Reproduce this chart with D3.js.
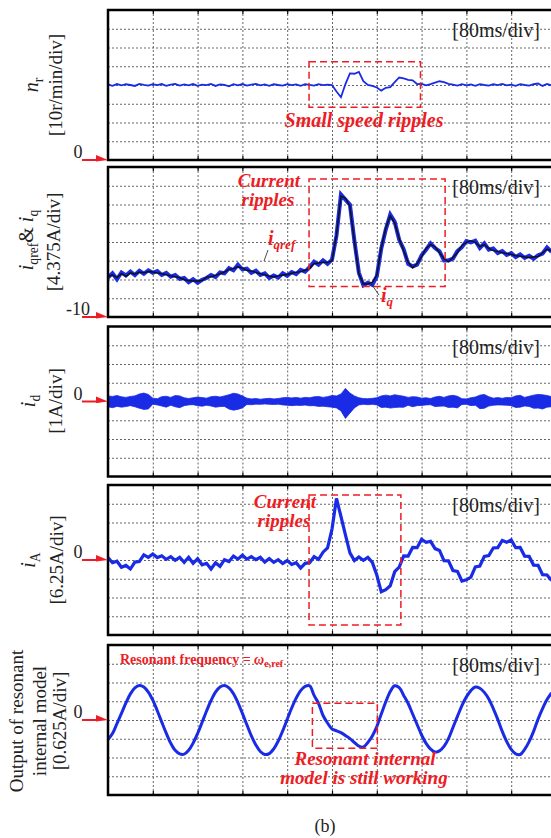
<!DOCTYPE html>
<html lang="en">
<head>
<meta charset="UTF-8" />
<title>Speed, current and resonant model waveforms</title>
<script src="https://cdnjs.cloudflare.com/ajax/libs/d3/7.8.5/d3.min.js"></script>
<style>
  body { margin: 0; background: #fff; }
  svg { display: block; font-family: "Liberation Serif", "Times New Roman", serif; }
  .grid line { stroke: #555; stroke-width: 0.9; stroke-dasharray: 2,2; }
  .grid path, .ticks path { display: none; }
  .ticks line { stroke: #000; stroke-width: 1.2; }
  .frame { fill: none; stroke: #000; stroke-width: 2.5; }
  .note { fill: #ee1c24; font-weight: bold; font-style: italic; }
  .box { fill: none; stroke: #ee1c24; stroke-width: 1.5; stroke-dasharray: 7,4; }
</style>
</head>
<body>
<svg id="chart"></svg>
<script>
// one sample every 8 ms (0.1 div at 80 ms/div)
const SAMPLE_MS = 8;
const timeGrid = [80, 160, 240, 320, 400, 480, 560, 640, 720];
const timePerDiv = "[80ms/div]";

// n_r [r/min]
const speed = [
  40.3, 39.6, 40.5, 39.8, 40.4, 40.0, 39.5, 40.6, 40.1, 39.7,
  40.4, 39.9, 40.5, 39.6, 40.2, 40.6, 39.7, 40.3, 39.8, 40.5,
  39.6, 40.2, 39.9, 40.6, 39.5, 40.3, 40.0, 39.3, 40.4, 39.8,
  40.5, 39.7, 40.2, 40.6, 39.8, 40.3, 39.6, 40.4, 40.0, 39.7,
  40.5, 39.9, 40.3, 39.6, 40.4, 40.1, 39.7, 40.5, 39.9, 40.2,
  40.0, 36.5, 33.5, 40.5, 46.2, 46.0, 47.0, 42.0, 40.0, 39.5,
  38.7, 37.0, 38.5, 38.9, 41.5, 44.0, 43.5, 42.7, 42.5, 40.5,
  40.6, 39.8, 40.5, 41.3, 42.0, 41.5, 40.6, 40.2, 39.7, 40.4,
  39.8, 40.3, 39.6, 40.5, 40.0, 39.7, 40.4, 39.9, 40.6, 39.8,
  40.2, 39.6, 40.5, 40.0, 39.7, 40.4, 40.8, 39.5, 40.6, 39.8
];

// i_qref (blue) and i_q (black) [A]
const iqRef = [
  -0.8, 0.2, -1.2, 0.4, -0.3, 0.6, -0.2, 0.8, 0.1, 0.9,
  0.3, 0.7, -0.2, 0.3, -0.6, -0.2, -1.1, -0.9, -1.9, -1.2,
  -2.0, -1.3, -0.9, -0.2, -0.7, 0.4, 0.2, 1.4, 0.9, 2.2,
  1.1, 1.3, 0.3, 0.8, -0.2, 0.2, -0.9, -0.3, -0.8, 0.2,
  -0.4, 0.5, 0.0, 1.0, 0.6, 1.6, 2.9, 2.2, 3.2, 2.4,
  3.4, 9.0, 18.6, 17.4, 16.2, 7.8, 0.3, -2.6, -2.0, -2.5,
  -0.5, 6.0, 10.4, 13.9, 12.2, 8.0, 5.8, 2.4, 1.8, 2.2,
  4.4, 5.7, 7.2, 6.1, 5.3, 3.2, 3.2, 3.6, 5.4, 6.3,
  7.7, 7.4, 7.8, 6.1, 7.2, 5.7, 6.0, 4.9, 5.4, 4.5,
  4.9, 4.0, 4.6, 3.8, 4.3, 3.6, 4.4, 4.8, 6.2, 5.2
];
const iq = [
  -0.5, -0.2, -0.8, 0.1, -0.5, 0.3, 0.0, 0.5, 0.3, 0.6,
  0.5, 0.3, 0.1, -0.1, -0.4, -0.6, -0.8, -1.3, -1.5, -1.6,
  -1.6, -1.5, -0.7, -0.6, -0.3, 0.1, 0.5, 1.1, 1.3, 1.7,
  1.4, 0.9, 0.7, 0.4, 0.1, -0.1, -0.5, -0.6, -0.4, -0.2,
  -0.1, 0.2, 0.4, 0.6, 0.9, 1.3, 2.5, 2.6, 2.8, 2.7,
  3.1, 9.2, 18.2, 17.7, 15.8, 7.6, 0.1, -2.3, -2.3, -1.9,
  -0.2, 6.2, 10.7, 13.6, 11.9, 8.3, 5.4, 2.8, 1.5, 2.5,
  4.1, 6.0, 6.9, 6.4, 5.0, 3.6, 2.9, 3.9, 5.0, 6.7,
  7.4, 7.8, 7.4, 6.4, 6.9, 6.0, 5.5, 5.3, 5.0, 4.8,
  4.6, 4.3, 4.2, 4.0, 3.9, 4.0, 4.1, 5.0, 5.8, 5.5
];

// i_d ripple band, upper and lower edges [A]
const idUpper = [
  0.30, 0.27, 0.32, 0.25, 0.22, 0.27, 0.30, 0.40, 0.45, 0.38,
  0.18, 0.15, 0.26, 0.28, 0.22, 0.32, 0.30, 0.20, 0.16, 0.20,
  0.24, 0.21, 0.18, 0.26, 0.28, 0.24, 0.30, 0.36, 0.44, 0.40,
  0.30, 0.18, 0.14, 0.16, 0.12, 0.15, 0.17, 0.14, 0.16, 0.20,
  0.22, 0.19, 0.22, 0.18, 0.22, 0.20, 0.25, 0.27, 0.22, 0.26,
  0.32, 0.30, 0.40, 0.70, 0.45, 0.30, 0.20, 0.16, 0.15, 0.17,
  0.20, 0.30, 0.34, 0.30, 0.36, 0.32, 0.28, 0.22, 0.26, 0.24,
  0.18, 0.20, 0.16, 0.24, 0.28, 0.22, 0.30, 0.33, 0.28, 0.15,
  0.14, 0.20, 0.24, 0.34, 0.38, 0.26, 0.18, 0.21, 0.17, 0.22,
  0.20, 0.30, 0.33, 0.22, 0.28, 0.34, 0.38, 0.36, 0.32, 0.26
];
const idLower = [
  -0.28, -0.33, -0.26, -0.30, -0.27, -0.22, -0.28, -0.36, -0.42, -0.40,
  -0.15, -0.18, -0.24, -0.30, -0.20, -0.28, -0.33, -0.22, -0.18, -0.17,
  -0.22, -0.25, -0.20, -0.24, -0.30, -0.27, -0.26, -0.40, -0.46, -0.42,
  -0.34, -0.16, -0.17, -0.14, -0.15, -0.13, -0.15, -0.16, -0.14, -0.18,
  -0.20, -0.22, -0.20, -0.21, -0.19, -0.23, -0.22, -0.26, -0.25, -0.28,
  -0.30, -0.34, -0.50, -0.90, -0.62, -0.34, -0.18, -0.15, -0.17, -0.15,
  -0.18, -0.32, -0.30, -0.35, -0.32, -0.30, -0.31, -0.20, -0.28, -0.22,
  -0.21, -0.18, -0.17, -0.27, -0.25, -0.24, -0.32, -0.30, -0.34, -0.16,
  -0.15, -0.22, -0.20, -0.38, -0.36, -0.24, -0.20, -0.18, -0.19, -0.20,
  -0.22, -0.32, -0.30, -0.24, -0.26, -0.36, -0.35, -0.40, -0.30, -0.28
];

// i_A [A]
const iA = [
  0.8, -0.9, -0.4, -2.4, -1.8, -3.0, -0.7, -0.5, 1.7, 0.9,
  2.0, 0.8, 1.4, 0.2, 1.1, -0.1, 0.9, -0.8, 0.9, -1.1,
  0.4, -1.6, -1.1, -3.0, -0.9, -2.1, 0.1, -0.5, 1.3, 0.3,
  1.6, 0.3, 1.1, 0.1, 0.9, -0.7, 0.5, -0.8, 0.1, -1.2,
  -0.2, -1.5, -0.9, -2.7, -1.1, -0.9, 1.1, 0.2, 2.6, 4.0,
  10.3, 20.5, 14.5, 8.4, 2.4, -0.2, 1.0, -0.1, 0.9, -0.8,
  -5.0, -10.6, -9.9, -8.6, -3.9, -2.4, 1.4, 1.3, 4.2, 4.1,
  6.9, 5.9, 6.2, 3.8, 3.2, -0.2, -0.3, -3.5, -3.8, -7.0,
  -6.6, -5.7, -2.3, -2.0, 1.2, 1.5, 4.0, 4.1, 6.5, 5.9,
  6.7, 4.1, 4.2, 1.3, 1.2, -1.7, -1.8, -4.9, -5.0, -6.8
];

// output of resonant internal model [A]
const resonant = [
  -0.65, -0.45, -0.12, 0.22, 0.57, 0.87, 1.07, 1.15, 1.10, 0.93,
  0.66, 0.31, -0.07, -0.44, -0.77, -1.01, -1.13, -1.14, -1.01, -0.77,
  -0.45, -0.08, 0.30, 0.65, 0.93, 1.10, 1.15, 1.07, 0.88, 0.58,
  0.22, -0.16, -0.53, -0.83, -1.05, -1.15, -1.12, -0.96, -0.70, -0.36,
  0.02, 0.40, 0.73, 0.98, 1.12, 1.14, 0.82, 0.55, 0.15, -0.10,
  -0.30, -0.36, -0.42, -0.52, -0.62, -0.75, -0.87, -0.90, -0.75, -0.53,
  -0.22, 0.20, 0.60, 0.95, 1.14, 1.08, 0.82, 0.55, 0.20, -0.15,
  -0.50, -0.78, -0.97, -1.07, -1.03, -0.88, -0.62, -0.25, 0.12, 0.48,
  0.77, 0.98, 1.10, 1.06, 0.92, 0.70, 0.38, 0.02, -0.38, -0.72,
  -0.98, -1.13, -1.15, -0.98, -0.72, -0.38, 0.03, 0.38, 0.68, 0.90
];

const width = 551;
const height = 838;
const H = 150;
const blue = "#1a2be6";
const red = "#ee1c24";

const panels = [
  { top: 10, domain: [0, 80], zero: 0, zeroText: "0" },
  { top: 167, domain: [-10, 25], zero: -10, zeroText: "-10" },
  { top: 326.5, domain: [-4, 4], zero: 0, zeroText: "0" },
  { top: 485, domain: [-25, 25], zero: 0, zeroText: "0" },
  { top: 645, domain: [-2.5, 2.5], zero: 0, zeroText: "0" }
];

const svg = d3.select("#chart").attr("width", width).attr("height", height);
const defs = svg.append("defs");

const x = d3.scaleLinear().domain([0, 800]).range([108, 556]);
const tx = (d, i) => x(i * SAMPLE_MS);

panels.forEach((p, k) => {
  p.y = d3.scaleLinear().domain(p.domain).range([p.top + H, p.top]);
  const step = (p.domain[1] - p.domain[0]) / 8;
  const yGrid = d3.range(1, 8).map((j) => p.domain[0] + j * step);

  defs.append("clipPath").attr("id", "clip" + k)
    .append("rect")
    .attr("x", 108).attr("y", p.top)
    .attr("width", 448).attr("height", H);

  const g = svg.append("g");
  g.append("g").attr("class", "grid")
    .attr("transform", `translate(0,${p.top + H})`)
    .call(d3.axisBottom(x).tickValues(timeGrid).tickSize(-H).tickFormat(""));
  g.append("g").attr("class", "grid")
    .attr("transform", "translate(108,0)")
    .call(d3.axisLeft(p.y).tickValues(yGrid).tickSize(-448).tickFormat(""));
  // short solid ticks on the frame
  g.append("g").attr("class", "ticks")
    .attr("transform", `translate(0,${p.top + H})`)
    .call(d3.axisBottom(x).tickValues(timeGrid).tickSize(-4).tickFormat(""));
  g.append("g").attr("class", "ticks")
    .attr("transform", `translate(0,${p.top})`)
    .call(d3.axisTop(x).tickValues(timeGrid).tickSize(-4).tickFormat(""));

  p.plot = svg.append("g").attr("clip-path", `url(#clip${k})`);

  svg.append("rect").attr("class", "frame")
    .attr("x", 108).attr("y", p.top).attr("width", 448).attr("height", H);

  svg.append("text")
    .attr("x", 540).attr("y", p.top + 27)
    .attr("text-anchor", "end")
    .attr("font-size", 20)
    .attr("fill", "#222")
    .text(timePerDiv);

  // zero marker
  const y0 = p.y(p.zero);
  svg.append("line")
    .attr("x1", 82).attr("x2", 100).attr("y1", y0).attr("y2", y0)
    .attr("stroke", red).attr("stroke-width", 2);
  svg.append("path")
    .attr("d", `M96,${y0 - 5}L108,${y0}L96,${y0 + 1.5}Z`)
    .attr("fill", red);
  svg.append("text")
    .attr("x", 78).attr("y", y0 - 2)
    .attr("text-anchor", "middle")
    .attr("font-size", 18)
    .attr("fill", "#222")
    .text(p.zeroText);
});

function lineFor(y) {
  return d3.line().x(tx).y((d) => y(d));
}

// traces
panels[0].plot.append("path").datum(speed)
  .attr("d", lineFor(panels[0].y))
  .attr("fill", "none").attr("stroke", blue).attr("stroke-width", 1.8);

panels[1].plot.append("path").datum(iqRef)
  .attr("d", lineFor(panels[1].y))
  .attr("fill", "none").attr("stroke", blue).attr("stroke-width", 4);
panels[1].plot.append("path").datum(iq)
  .attr("d", lineFor(panels[1].y))
  .attr("fill", "none").attr("stroke", "#111").attr("stroke-width", 1.4);

const idArea = d3.area()
  .x(tx)
  .y0((d, i) => panels[2].y(idLower[i]))
  .y1((d) => panels[2].y(d));
panels[2].plot.append("path").datum(idUpper)
  .attr("d", idArea)
  .attr("fill", blue).attr("stroke", blue).attr("stroke-width", 0.8);

panels[3].plot.append("path").datum(iA)
  .attr("d", lineFor(panels[3].y))
  .attr("fill", "none").attr("stroke", blue).attr("stroke-width", 3.2);

panels[4].plot.append("path").datum(resonant)
  .attr("d", lineFor(panels[4].y).curve(d3.curveCatmullRom))
  .attr("fill", "none").attr("stroke", blue).attr("stroke-width", 3);

// vertical axis labels
function vLabel(xb, yc, parts, size) {
  const t = svg.append("text")
    .attr("transform", `translate(${xb},${yc}) rotate(-90)`)
    .attr("text-anchor", "middle")
    .attr("font-size", size)
    .attr("fill", "#222");
  let shift = 0;
  parts.forEach((part) => {
    const target = part.sub ? 5 : 0;
    const s = t.append("tspan").text(part.t).attr("dy", target - shift);
    shift = target;
    if (part.it) s.attr("font-style", "italic");
    if (part.sub) s.attr("font-size", size * 0.68);
  });
}

vLabel(38, 85, [{ t: "n", it: true }, { t: "r", sub: true }], 20);
vLabel(62, 85, [{ t: "[10r/min/div]" }], 19);
vLabel(33, 240, [
  { t: "i", it: true }, { t: "qref", sub: true }, { t: "& " },
  { t: "i", it: true }, { t: "q", sub: true }
], 20);
vLabel(60, 242, [{ t: "[4.375A/div]" }], 19);
vLabel(35, 401, [{ t: "i", it: true }, { t: "d", sub: true }], 20);
vLabel(62, 401, [{ t: "[1A/div]" }], 19);
vLabel(35, 560, [{ t: "i", it: true }, { t: "A", sub: true }], 20);
vLabel(63, 560, [{ t: "[6.25A/div]" }], 19);
vLabel(23, 721, [{ t: "Output of resonant" }], 19);
vLabel(46, 721, [{ t: "internal model" }], 19);
vLabel(66, 721, [{ t: "[0.625A/div]" }], 19);

// dashed annotation boxes, in data units
function box(p, t0, t1, v0, v1) {
  svg.append("rect").attr("class", "box")
    .attr("x", x(t0)).attr("y", p.y(v1))
    .attr("width", x(t1) - x(t0)).attr("height", p.y(v0) - p.y(v1));
}
box(panels[0], 359, 558, 28.1, 52.4);
box(panels[1], 359, 602, -2.9, 22.2);
box(panels[3], 359, 523, -21.7, 21.7);
box(panels[4], 365, 481, -0.94, 0.56);

function note(xc, yb, txt, size) {
  svg.append("text").attr("class", "note")
    .attr("x", xc).attr("y", yb)
    .attr("text-anchor", "middle")
    .attr("font-size", size)
    .text(txt);
}
note(364, 127, "Small speed ripples", 20);
note(269, 187, "Current", 19);
note(268, 206, "ripples", 19);
note(285, 508, "Current", 19);
note(284, 527, "ripples", 19);
note(365, 765, "Resonant internal", 19);
note(364, 784, "model is still working", 19);

// i_qref / i_q labels with leader lines
svg.append("line").attr("x1", 268).attr("y1", 250).attr("x2", 264).attr("y2", 261)
  .attr("stroke", "#222").attr("stroke-width", 0.8);
svg.append("line").attr("x1", 370).attr("y1", 282).attr("x2", 379).attr("y2", 295)
  .attr("stroke", "#222").attr("stroke-width", 0.8);
const lq = svg.append("text").attr("class", "note").attr("x", 268).attr("y", 245).attr("font-size", 20);
lq.append("tspan").text("i");
lq.append("tspan").text("qref").attr("font-size", 13).attr("dy", 4);
const lq2 = svg.append("text").attr("class", "note").attr("x", 381).attr("y", 302).attr("font-size", 20);
lq2.append("tspan").text("i");
lq2.append("tspan").text("q").attr("font-size", 13).attr("dy", 4);

// resonant frequency note
const rf = svg.append("text")
  .attr("x", 120).attr("y", 664)
  .attr("font-size", 14).attr("font-weight", "bold").attr("fill", red);
rf.append("tspan").text("Resonant frequency = ");
rf.append("tspan").text("ω").attr("font-style", "italic");
rf.append("tspan").text("e,ref").attr("font-size", 10).attr("dy", 3);

svg.append("text")
  .attr("x", 325).attr("y", 832)
  .attr("text-anchor", "middle")
  .attr("font-size", 18)
  .attr("fill", "#222")
  .text("(b)");
</script>
</body>
</html>
